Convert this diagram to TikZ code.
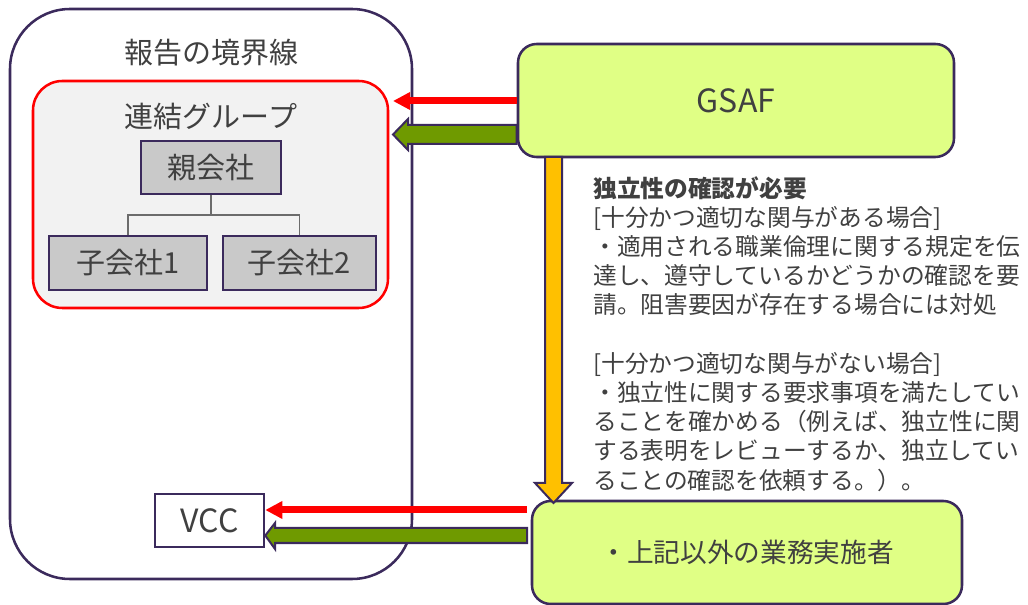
\documentclass[tikz,border=0pt]{standalone}
\usepackage{fontspec}
\setmainfont{Noto Sans CJK JP}
\usetikzlibrary{arrows.meta,calc}
\definecolor{dpurple}{HTML}{3B2A5C}
\definecolor{txtgray}{HTML}{404040}
\definecolor{lime}{HTML}{E0FF85}
\definecolor{agreen}{HTML}{6F9A00}
\definecolor{aorange}{HTML}{FFC000}
\definecolor{boxgray}{HTML}{C9C9C9}
\definecolor{lightbg}{HTML}{F2F2F2}
\definecolor{ared}{HTML}{FF0000}
\tikzset{
  px/.style={x=0.75pt,y=-0.75pt},
  txt/.style={text=txtgray,inner sep=0pt},
  grayco/.style={draw=dpurple,line width=1.9pt,fill=boxgray,text=txtgray,font=\fontsize{21.75}{24}\selectfont,inner sep=0pt},
  limebox/.style={draw=dpurple,line width=1.9pt,fill=lime,rounded corners=14pt,text=txtgray,inner sep=0pt},
  redarrow/.style={draw=ared,line width=5.25pt,-{Triangle[length=12.75pt,width=12.5pt]}},
  blockarrow/.style={draw=dpurple,line width=1.5pt,line join=miter},
}
\begin{document}
\begin{tikzpicture}[px]
\useasboundingbox (0,0) rectangle (1028,605);
% outer boundary
\node[draw=dpurple,line width=1.9pt,rounded corners=45pt,minimum width=301.5pt,minimum height=427.5pt,inner sep=0pt] (boundary) at (211,294) {};
\node[txt,font=\fontsize{21.75}{24}\selectfont] (btitle) at (211,53) {報告の境界線};
% group
\node[draw=ared,line width=1.9pt,fill=lightbg,rounded corners=22pt,minimum width=266.25pt,minimum height=170.25pt,inner sep=0pt] (group) at (210.5,194.5) {};
\node[txt,font=\fontsize{21.75}{24}\selectfont] (gtitle) at (211,117) {連結グループ};
\node[grayco,minimum width=105pt,minimum height=39.75pt] (oya) at (211,167.5) {親会社};
\node[grayco,minimum width=118.5pt,minimum height=40.5pt] (ko1) at (128,263) {子会社1};
\node[grayco,minimum width=114.75pt,minimum height=40.5pt] (ko2) at (299.5,263) {子会社2};
\coordinate (br) at (211,215);
\draw[draw=gray!85!black,line width=0.9pt] (oya.south) -- (br) -| (ko1.north);
\draw[draw=gray!85!black,line width=0.9pt] (br) -| (ko2.north);
% GSAF
\node[limebox,minimum width=327pt,minimum height=84.75pt,font=\fontsize{24}{26}\selectfont] (gsaf) at (736,100.5) {GSAF};
% VCC
\node[draw=dpurple,line width=1.9pt,fill=white,minimum width=81.75pt,minimum height=39.75pt,inner sep=0pt,text=txtgray,font=\fontsize{24}{26}\selectfont] (vcc) at (209.5,520.5) {VCC};
% other
\node[limebox,minimum width=322.5pt,minimum height=77.25pt,font=\fontsize{20}{22}\selectfont] (other) at (747,552.5) {・上記以外の業務実施者};
% arrows GSAF -> group
\coordinate (r1s) at (gsaf.west |- 0,101);
\coordinate (r1e) at (393,101);
\draw[redarrow] (r1s) -- (r1e);
\draw[blockarrow,fill=agreen] (gsaf.west |- 0,125) -- (408,125) -- (408,119) -- (393,134.5) -- (408,150) -- (408,144) -- (gsaf.west |- 0,144) -- cycle;
% orange down arrow
\draw[blockarrow,fill=aorange] (545,157) -- (545,483) -- (535,483) -- (553.5,503) -- (572,483) -- (562,483) -- (562,157) -- cycle;
% arrows other -> VCC
\coordinate (r2s) at (527,510);
\draw[redarrow] (r2s) -- (vcc.east |- 0,510);
\draw[blockarrow,fill=agreen] (527,528) -- (275,528) -- (275,523) -- (vcc.east |- 0,535.5) -- (275,549) -- (275,543) -- (527,543) -- cycle;
% text block
\node[txt,anchor=north west,align=left,font=\fontsize{17.8}{21.9}\selectfont] (desc) at (593,176) {%
\textbf{独立性の確認が必要}\\
{[}十分かつ適切な関与がある場合{]}\\
・適用される職業倫理に関する規定を伝\\
達し、遵守しているかどうかの確認を要\\
請。阻害要因が存在する場合には対処\\
\mbox{}\\
{[}十分かつ適切な関与がない場合{]}\\
・独立性に関する要求事項を満たしてい\\
ることを確かめる（例えば、独立性に関\\
する表明をレビューするか、独立してい\\
ることの確認を依頼する。）。};
\end{tikzpicture}
\end{document}
